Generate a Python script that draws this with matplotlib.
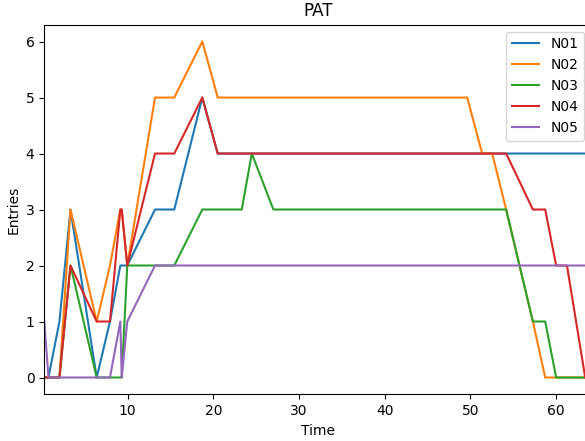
import matplotlib
matplotlib.use('Agg')
import matplotlib.pyplot as plt

# sample times (shared by all series)
times = [0.26, 0.75, 2.03, 3.32, 6.38, 7.93, 9.14, 9.30, 9.95, 13.19,
         15.44, 18.71, 20.51, 23.32, 24.49, 27.01, 49.64, 51.39, 52.56,
         54.19, 57.31, 58.75, 60.03, 61.29, 63.42]

n01 = [0, 0, 1, 3, 0, 1, 2, 2, 2, 3, 3, 5, 4, 4, 4, 4, 4, 4, 4, 4, 4, 4, 4, 4, 4]
n02 = [0, 0, 0, 3, 1, 2, 3, 3, 2, 5, 5, 6, 5, 5, 5, 5, 5, 4, 4, 3, 1, 0, 0, 0, 0]
n03 = [0, 0, 0, 2, 0, 0, 0, 0, 2, 2, 2, 3, 3, 3, 4, 3, 3, 3, 3, 3, 1, 1, 0, 0, 0]
n04 = [0, 0, 0, 2, 1, 1, 3, 3, 2, 4, 4, 5, 4, 4, 4, 4, 4, 4, 4, 4, 3, 3, 2, 2, 0]
n05 = [1, 0, 0, 0, 0, 0, 1, 0, 1, 2, 2, 2, 2, 2, 2, 2, 2, 2, 2, 2, 2, 2, 2, 2, 2]

series = {'N01': n01, 'N02': n02, 'N03': n03, 'N04': n04, 'N05': n05}
x_right = 64.1

fig = plt.figure(figsize=(5.85, 4.41), dpi=100)
ax = fig.add_axes([0.0757, 0.1059, 0.9346, 0.838])

for name, vals in series.items():
    ax.plot(times, vals, label=name)

ax.set_xlim(times[0], x_right)
ax.set_title('PAT')
ax.set_xlabel('Time')
ax.set_ylabel('Entries')
ax.legend(loc='upper right')

fig.savefig('out.png', dpi=100)
